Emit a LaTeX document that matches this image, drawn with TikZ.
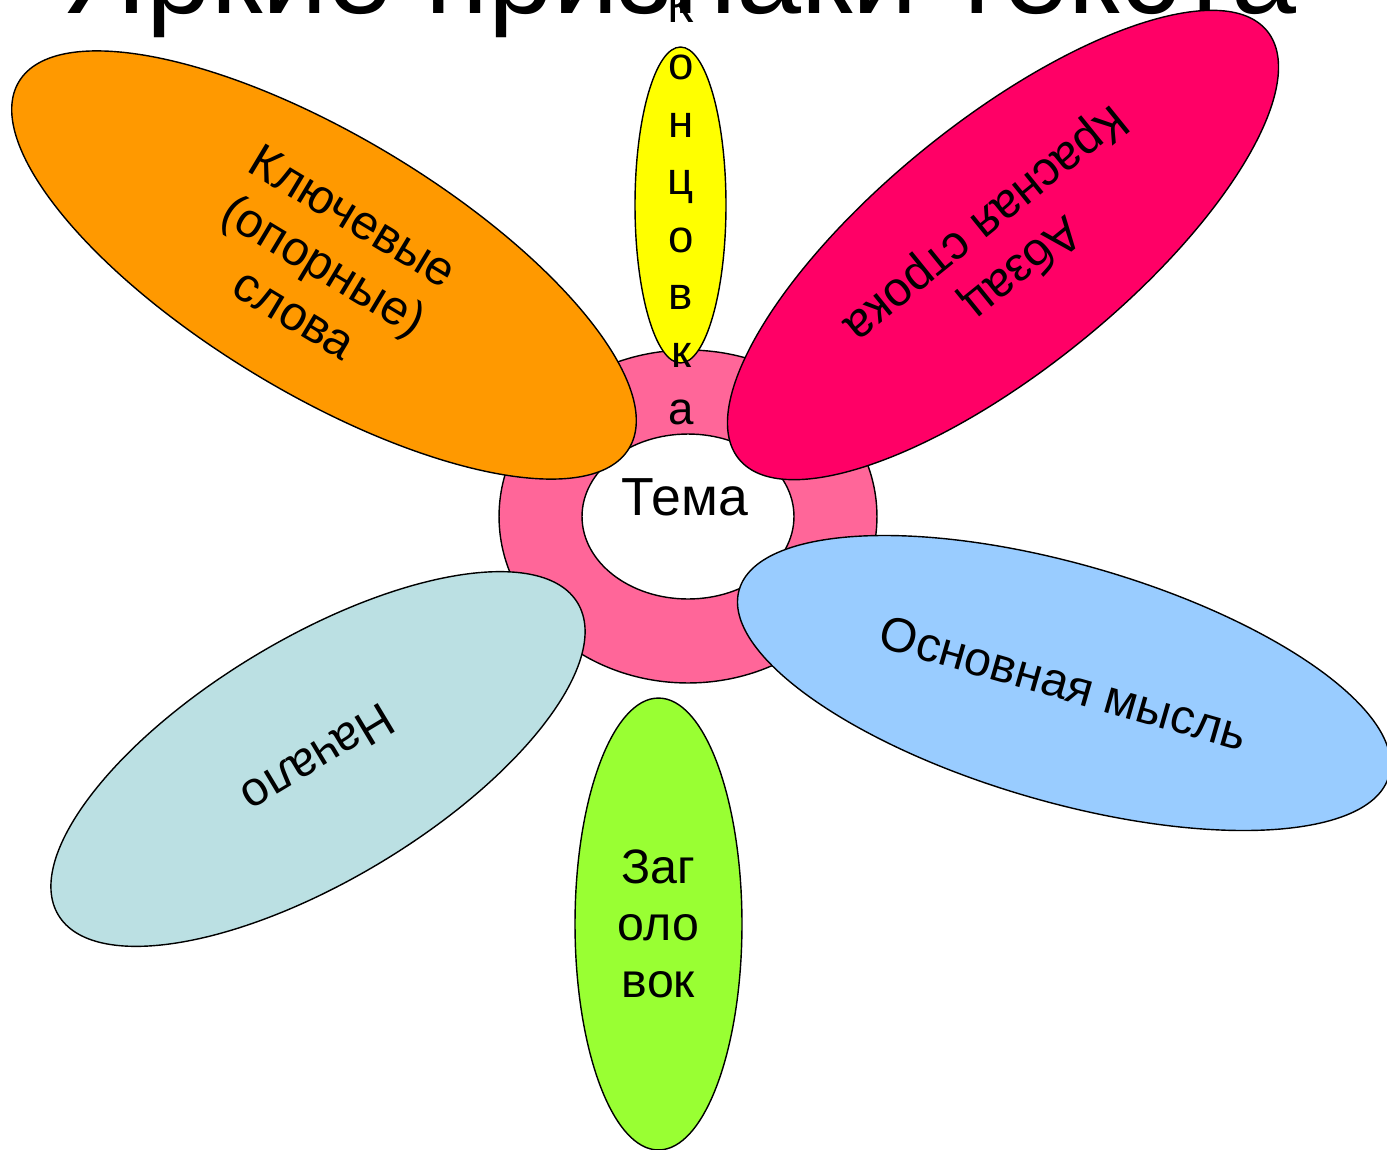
\documentclass[tikz,border=0pt]{standalone}
\usepackage{fontspec}
\setmainfont{Liberation Sans}
\usetikzlibrary{shapes.geometric}

\definecolor{ringpink}{HTML}{FF6699}
\definecolor{petalorange}{HTML}{FF9900}
\definecolor{petalred}{HTML}{FF0066}
\definecolor{petalyellow}{HTML}{FFFF00}
\definecolor{petalblue}{HTML}{99CCFF}
\definecolor{petalgrey}{HTML}{BBE0E3}
\definecolor{petalgreen}{HTML}{99FF33}

\begin{document}
\begin{tikzpicture}[x=0.02cm, y=-0.02cm,
  petal/.style={ellipse, draw=black, line width=0.8pt, inner sep=0pt, align=center,
    font=\fontsize{27.5}{32.4}\selectfont}]
\useasboundingbox (0,0) rectangle (1387,1150);

\node[anchor=base, font=\fontsize{66.5}{80}\selectfont] (title) at (679,13) {Яркие признаки текста};

% centre of the flower
\node[petal, fill=ringpink, minimum width=7.56cm, minimum height=6.66cm] (ring) at (688,516.5) {};
\node[petal, fill=white, minimum width=4.24cm, minimum height=3.3cm] (core) at (688,516.5) {};
\node[anchor=base, font=\fontsize{30.5}{36}\selectfont] (tema) at (685,515) {Тема};

% petals
\node[petal, fill=petalyellow, minimum width=1.82cm, minimum height=6.32cm] (konc) at (680.5,205) {};
\node[align=center, inner sep=0pt, font=\fontsize{26}{32.7}\selectfont] (konctext) at (681,208) {К\\о\\н\\ц\\о\\в\\к\\а};

\node[petal, fill=petalorange, minimum width=14.24cm, minimum height=5.16cm, rotate=-31] (kluch) at (324,265) {Ключевые\\(опорные)\\слова};
\node[petal, fill=petalred, minimum width=13.6cm, minimum height=4.96cm, rotate=219] (abzac) at (1003,245) {Абзац\\Красная строка};
\node[petal, fill=petalblue, minimum width=13.52cm, minimum height=4.76cm, rotate=-16] (mysl) at (1064,683) {Основная мысль};
\node[petal, fill=petalgrey, minimum width=12.12cm, minimum height=4.84cm, rotate=211] (nachalo) at (318,759) {Начало};
\node[petal, fill=petalgreen, minimum width=3.34cm, minimum height=9.04cm] (zagol) at (658.5,924) {Заг\\оло\\вок};
\end{tikzpicture}
\end{document}
